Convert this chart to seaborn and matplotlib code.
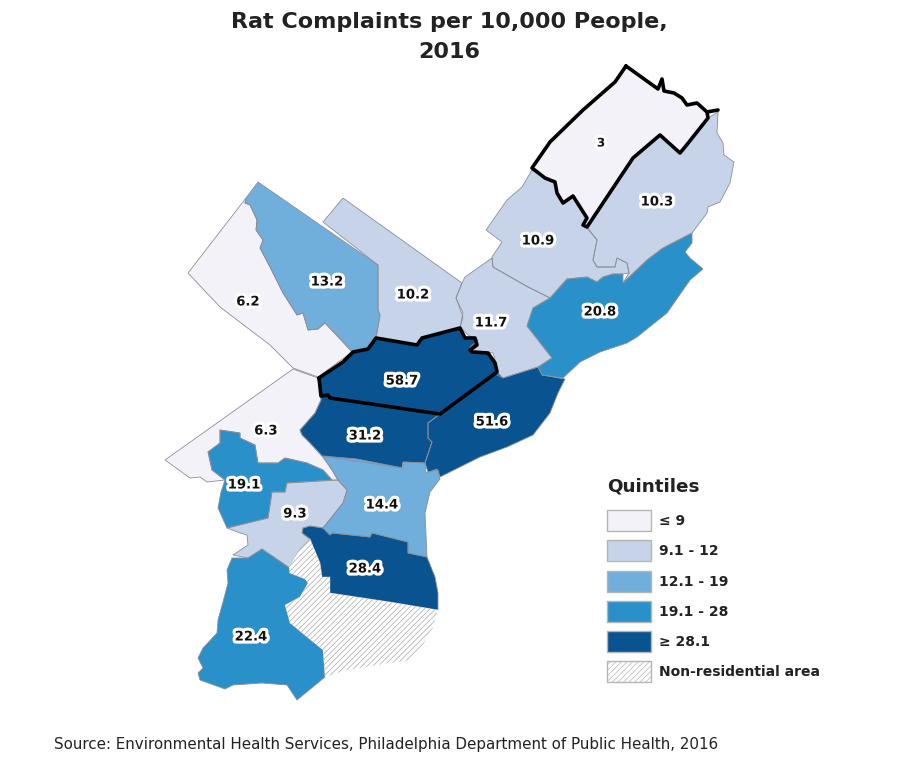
import numpy as np
import pandas as pd
import matplotlib
matplotlib.use("Agg")
import matplotlib.pyplot as plt
import matplotlib.patheffects as pe
from matplotlib.patches import Patch
import seaborn as sns

# Planning district rates
districts = ["far_ne", "ne_lower", "ne_upper", "river_ne", "north_ne", "roxborough", "germantown", "olney",
             "north", "river", "central_n", "overbrook", "west", "southwest", "center", "south", "airport"]
rates = [3, 10.3, 10.9, 20.8, 11.7, 6.2, 13.2, 10.2, 58.7, 51.6, 31.2, 6.3, 19.1, 9.3, 14.4, 28.4, 22.4]
label_x = [601, 657, 538, 600, 491, 248, 327, 413, 402, 492, 365, 266, 244, 295, 382, 365, 251]
label_y = [143, 202, 241, 312, 323, 302, 282, 295, 381, 422, 436, 431, 485, 514, 505, 569, 637]

# Quintile legend
bins = [0, 9, 12, 19, 28, 1000]
bin_labels = ["≤ 9", "9.1 - 12", "12.1 - 19", "19.1 - 28", "≥ 28.1"]
bin_colors = ["#F4F2F9", "#C6D3E9", "#70AEDC", "#2A90C9", "#0A5391"]

far_ne = [(626,66),(658,89),(662,79),(664,91),(674,93),(682,98),(687,105),(697,103),(707,112),(708,118),(685,147),(680,153),(660,135),(633,158),(587,227),(583,225),(587,218),(573,196),(563,203),(557,193),(555,182),(545,178),(532,168),(550,142),(583,110),(615,82)]
ne_lower = [(708,118),(718,112),(717,133),(723,143),(724,155),(734,162),(730,183),(720,202),(708,207),(707,213),(692,233),(663,248),(647,260),(623,283),(629,273),(627,263),(617,258),(615,267),(597,267),(593,260),(597,240),(587,227),(633,158),(660,135),(680,153),(685,147)]
ne_upper = [(532,170),(545,178),(555,182),(557,193),(563,203),(573,196),(587,218),(583,225),(587,228),(597,240),(593,260),(597,267),(615,267),(617,258),(627,263),(629,273),(623,274),(613,274),(603,277),(597,282),(587,277),(567,279),(550,298),(528,287),(493,267),(492,257),(502,242),(486,230),(507,200),(522,187)]
river_ne = [(692,233),(692,243),(685,252),(690,258),(703,269),(690,280),(667,313),(637,337),(627,343),(600,352),(580,362),(563,378),(542,375),(538,367),(552,358),(527,326),(533,308),(550,298),(567,279),(587,277),(597,282),(603,277),(613,274),(623,274),(623,283),(647,260),(663,248)]
north_ne = [(492,258),(493,267),(528,287),(550,298),(533,308),(527,326),(552,358),(538,367),(503,378),(497,375),(498,370),(493,353),(472,350),(470,347),(478,340),(468,335),(460,327),(463,313),(456,298),(462,283),(465,277)]
roxborough = [(246,198),(188,273),(220,307),(270,345),(293,368),(318,377),(352,352),(325,323),(318,329),(308,330),(303,313),(297,315),(283,293),(270,267),(260,248),(263,240),(256,230),(257,220),(250,205),(245,203)]
germantown = [(258,182),(378,265),(378,310),(380,315),(376,338),(368,349),(353,352),(325,323),(318,329),(308,330),(303,313),(297,315),(283,293),(270,267),(260,248),(263,240),(256,230),(257,220),(250,205),(245,203),(246,198)]
olney = [(343,198),(462,283),(456,298),(463,317),(460,328),(422,338),(417,345),(376,338),(380,315),(378,310),(378,265),(323,222)]
north = [(319,378),(343,362),(353,352),(368,349),(376,338),(417,345),(422,338),(460,328),(465,338),(475,338),(477,345),(470,350),(472,352),(488,353),(495,363),(497,372),(440,414),(330,398),(328,395),(321,396)]
river = [(497,372),(503,378),(538,367),(542,375),(565,379),(558,393),(550,413),(533,435),(507,447),(480,457),(460,467),(440,477),(438,470),(428,472),(425,463),(432,442),(428,438),(428,423),(440,414)]
central_n = [(321,396),(328,395),(330,398),(440,414),(428,423),(428,438),(432,442),(425,463),(403,462),(402,468),(322,456),(310,443),(302,435),(300,430),(315,413),(321,400)]
overbrook = [(293,369),(318,378),(321,400),(315,413),(300,430),(302,435),(310,443),(322,456),(332,470),(338,480),(332,480),(323,470),(307,463),(285,458),(278,463),(258,463),(255,445),(240,438),(240,433),(220,430),(220,443),(208,452),(212,470),(225,480),(207,482),(200,477),(190,478),(165,460)]
west = [(220,430),(240,433),(240,438),(255,445),(258,463),(278,463),(285,458),(307,463),(323,470),(332,480),(287,483),(285,492),(272,492),(268,518),(227,528),(218,508),(221,492),(225,480),(212,470),(208,452),(220,443)]
southwest = [(227,528),(268,518),(272,492),(285,492),(287,483),(338,480),(347,490),(343,503),(323,528),(310,526),(303,528),(302,533),(310,539),(298,552),(289,568),(262,549),(248,558),(233,555),(248,545),(247,535),(240,533)]
center = [(323,456),(357,459),(403,468),(404,462),(425,463),(426,473),(437,469),(440,479),(430,492),(425,513),(427,557),(408,553),(408,542),(372,533),(370,537),(332,533),(330,535),(323,528),(343,503),(347,490),(338,480),(332,470)]
south = [(302,533),(303,528),(310,526),(323,528),(330,535),(332,533),(370,537),(372,533),(408,542),(408,553),(427,557),(435,577),(438,593),(438,610),(390,602),(330,593),(330,577),(322,577),(320,563),(310,539)]
airport = [(232,558),(248,558),(262,549),(290,568),(289,573),(305,579),(308,583),(300,597),(285,605),(290,623),(307,637),(323,650),(325,677),(297,700),(287,685),(262,683),(233,685),(225,689),(200,680),(198,673),(203,668),(198,658),(203,648),(217,633),(218,620),(223,602),(228,583),(227,570)]
non_residential = [(310,539),(320,563),(322,577),(330,577),(330,593),(390,602),(438,610),(433,628),(420,650),(410,660),(377,665),(347,670),(325,677),(323,650),(307,637),(290,623),(285,605),(300,597),(308,583),(305,579),(290,573),(289,567),(298,552)]

shapes = [far_ne, ne_lower, ne_upper, river_ne, north_ne, roxborough, germantown, olney,
          north, river, central_n, overbrook, west, southwest, center, south, airport]

df = pd.DataFrame({"district": districts, "rate": rates, "x": label_x, "y": label_y})
df["quintile"] = pd.cut(df["rate"], bins=bins, labels=bin_labels)

sns.set_theme(style="white")
plt.rcParams["font.family"] = ["DejaVu Sans"]
plt.rcParams["hatch.linewidth"] = 0.5
palette = dict(zip(bin_labels, sns.color_palette(bin_colors)))

fig = plt.figure(figsize=(9, 7.61), dpi=100)
ax = fig.add_axes([0, 0, 1, 1])

# Fills first, then the thin borders
for shape, q in zip(shapes, df["quintile"]):
    xs, ys = zip(*shape)
    ax.fill(xs, ys, facecolor=palette[q], edgecolor="none", zorder=1)
for shape in shapes:
    xs, ys = zip(*shape)
    ax.fill(xs, ys, facecolor="none", edgecolor="#8a8f98", linewidth=0.6, zorder=2)
xs, ys = zip(*non_residential)
ax.fill(xs, ys, facecolor="white", edgecolor="#a8a8a8", hatch="//////", linewidth=0, zorder=2)

# Heavy outlines on the highest and lowest districts
for shape in [far_ne, north]:
    ring = np.array(shape + shape[:1])
    sns.lineplot(x=ring[:, 0], y=ring[:, 1], sort=False, estimator=None, color="black",
                 linewidth=2.6, ax=ax, zorder=3)
sns.lineplot(x=[707, 718], y=[112, 110], sort=False, estimator=None, color="black", linewidth=2.6, ax=ax, zorder=3)
ax.set_xlim(0, 900)
ax.set_ylim(761, 0)
ax.axis("off")

for _, row in df.iterrows():
    ax.text(row["x"], row["y"], f'{row["rate"]:g}', ha="center", va="center",
            fontsize=9.5 if row["rate"] > 3 else 8.5, color="#111111", weight="bold", zorder=4,
            path_effects=[pe.withStroke(linewidth=4.5, foreground="white")])

ax.text(449, 37, "Rat Complaints per 10,000 People,\n2016", ha="center", va="center", fontsize=16,
        weight="bold", color="#222222", linespacing=1.6)
ax.text(54, 745, "Source: Environmental Health Services, Philadelphia Department of Public Health, 2016",
        ha="left", va="center", fontsize=10.9, color="#222222")

handles = [Patch(facecolor=palette[b], edgecolor="#b5b5b5", linewidth=1) for b in bin_labels]
handles.append(Patch(facecolor="white", edgecolor="#b5b5b5", hatch="//////", linewidth=1))
leg = ax.legend(handles, bin_labels + ["Non-residential area"], title="Quintiles", loc="upper left",
                bbox_to_anchor=(607 / 900, 1 - 477 / 761), bbox_transform=ax.transAxes, frameon=False,
                fontsize=10, handlelength=3.17, handleheight=1.95, labelspacing=0.66, handletextpad=0.58,
                borderpad=0, borderaxespad=0, alignment="left", title_fontproperties={"size": 13.2, "weight": "bold"})
for t in leg.get_texts():
    t.set_weight("bold")
    t.set_color("#222222")
leg.get_title().set_color("#222222")
leg._legend_box.sep = 11

fig.savefig("out.png", dpi=100)
